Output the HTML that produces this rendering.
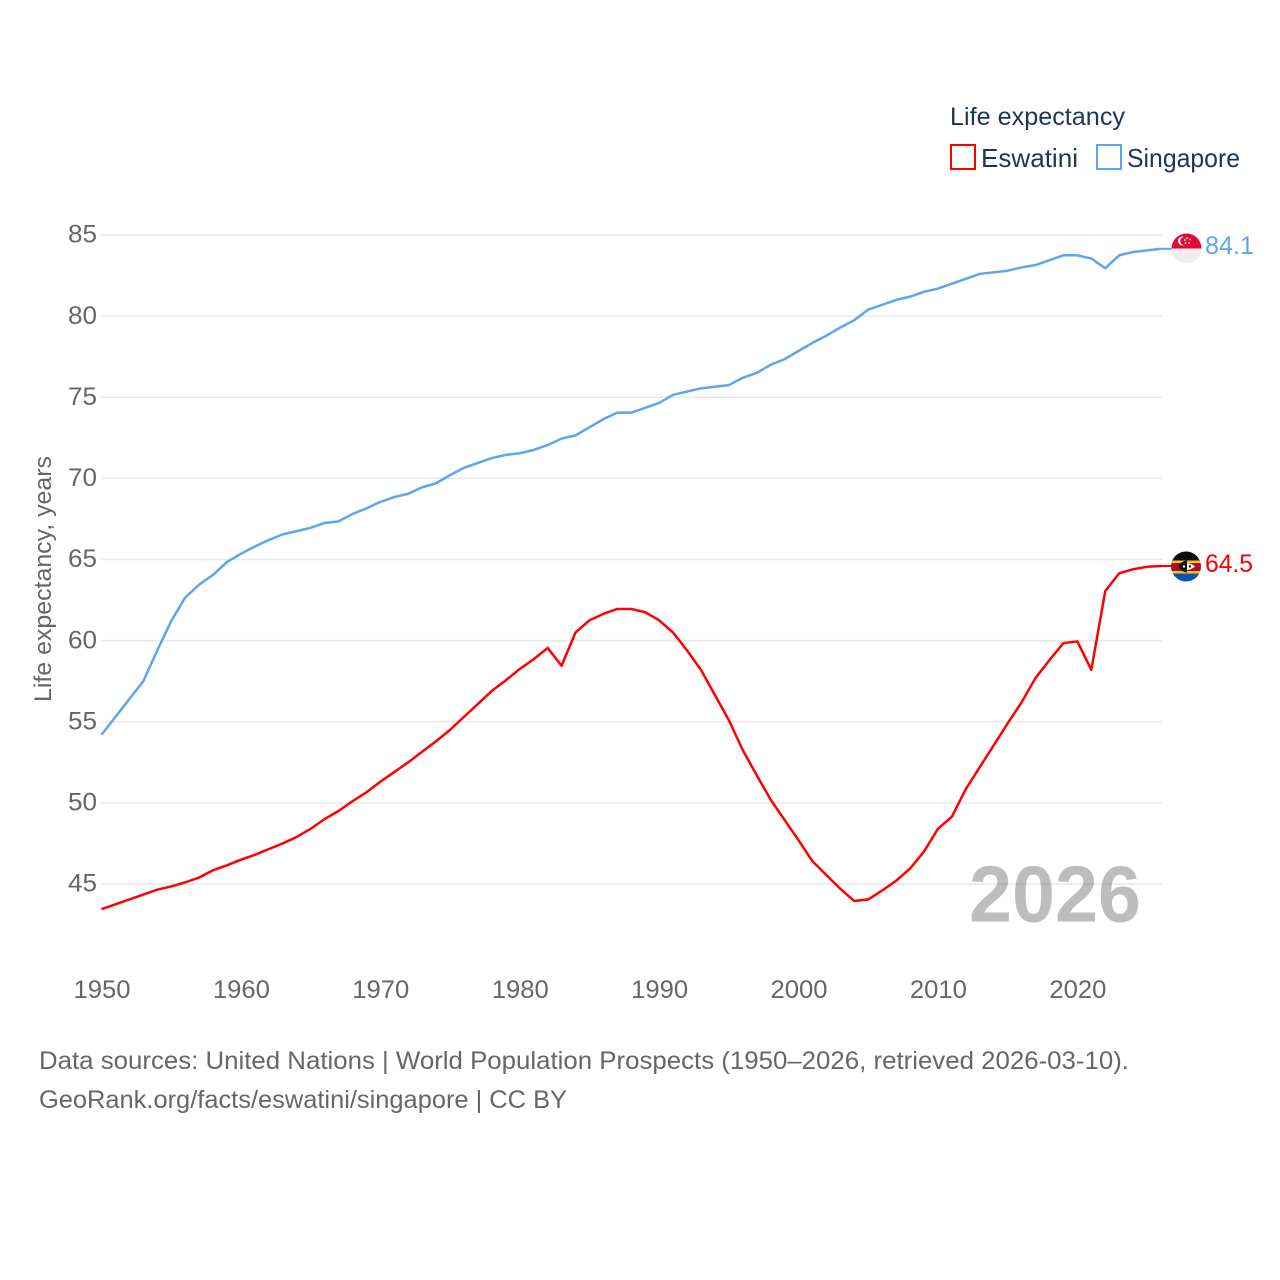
<!DOCTYPE html>
<html lang="en">
<head>
<meta charset="utf-8">
<title>Life expectancy: Eswatini and Singapore</title>
<style>
html,body{margin:0;padding:0;background:#fff;}
svg{display:block;font-family:"Liberation Sans",sans-serif;}
</style>
</head>
<body>
<svg id="chart" width="1280" height="1280" viewBox="0 0 1280 1280" xmlns="http://www.w3.org/2000/svg">
  <defs>
    <clipPath id="clip-sg"><circle cx="1186.5" cy="248.5" r="15"/></clipPath>
    <clipPath id="clip-sz"><circle cx="1186" cy="566.5" r="15"/></clipPath>
  </defs>
  <g id="grid"></g>
  <g id="y-ticks"></g>
  <g id="x-ticks"></g>
  <text transform="translate(51,702) rotate(-90)" font-size="24" fill="#666" textLength="246" lengthAdjust="spacingAndGlyphs">Life expectancy, years</text>

  <text x="969" y="921.5" font-size="80" font-weight="700" fill="#000" fill-opacity="0.26" textLength="172" lengthAdjust="spacingAndGlyphs">2026</text>

  <path id="line-eswatini" fill="none" stroke="#ff0000" stroke-width="2.5" stroke-linejoin="round"></path>
  <path id="line-singapore" fill="none" stroke="#5da5ee" stroke-width="2.5" stroke-linejoin="round"></path>
  <line id="lead-eswatini" stroke="#ff0000" stroke-width="2"></line>
  <line id="lead-singapore" stroke="#5da5ee" stroke-width="2"></line>

  <g clip-path="url(#clip-sg)">
    <rect x="1171" y="233" width="31" height="16" fill="#e30b35"/>
    <rect x="1171" y="248.5" width="31" height="16" fill="#eeeeee"/>
    <circle cx="1182.5" cy="241" r="4.5" fill="#fff"/>
    <circle cx="1184.5" cy="241" r="4.3" fill="#e30b35"/>
    <circle cx="1187" cy="238" r="0.9" fill="#fff"/>
    <circle cx="1190" cy="239.5" r="0.9" fill="#fff"/>
    <circle cx="1189" cy="243" r="0.9" fill="#fff"/>
    <circle cx="1185.5" cy="243" r="0.9" fill="#fff"/>
    <circle cx="1184.8" cy="240" r="0.9" fill="#fff"/>
  </g>
  <g clip-path="url(#clip-sz)">
    <rect x="1170" y="551" width="32" height="10" fill="#0b0b0b"/>
    <rect x="1170" y="560.5" width="32" height="2.5" fill="#f5c518"/>
    <rect x="1170" y="563" width="32" height="8" fill="#b10c2a"/>
    <rect x="1170" y="571" width="32" height="2.5" fill="#f5c518"/>
    <rect x="1170" y="573.5" width="32" height="9" fill="#0a54b0"/>
    <path d="M1178 566.5 Q1187 559.5 1195 566.5 Q1187 573.5 1178 566.5Z" fill="#fff"/>
    <path d="M1178 566.5 Q1182 560.5 1187 560.5 L1187 572.5 Q1182 572.5 1178 566.5Z" fill="#111"/>
    <circle cx="1184" cy="566.5" r="1.2" fill="#fff"/>
    <circle cx="1190" cy="566.5" r="1.2" fill="#111"/>
  </g>

  <text id="value-singapore" x="1205" y="254" font-size="25" fill="#5da5ee" textLength="49" lengthAdjust="spacingAndGlyphs"></text>
  <text id="value-eswatini" x="1205" y="572" font-size="25" fill="#ff0000" textLength="48" lengthAdjust="spacingAndGlyphs"></text>

  <g>
    <text x="950" y="125" font-size="25" fill="#1d3557" textLength="175" lengthAdjust="spacingAndGlyphs">Life expectancy</text>
    <g>
      <rect x="951" y="145" width="24" height="24" fill="#fff" stroke="#ff0000" stroke-width="2"/>
      <text x="981" y="167" font-size="26" fill="#1d3557" textLength="97" lengthAdjust="spacingAndGlyphs">Eswatini</text>
    </g>
    <g>
      <rect x="1097" y="145" width="24" height="24" fill="#fff" stroke="#5da5ee" stroke-width="2"/>
      <text x="1127" y="167" font-size="26" fill="#1d3557" textLength="113" lengthAdjust="spacingAndGlyphs">Singapore</text>
    </g>
  </g>

  <g>
    <text x="39" y="1069" font-size="25" fill="#666" textLength="1090" lengthAdjust="spacingAndGlyphs">Data sources: United Nations | World Population Prospects (1950–2026, retrieved 2026-03-10).</text>
    <text x="39" y="1108" font-size="25" fill="#666" textLength="528" lengthAdjust="spacingAndGlyphs">GeoRank.org/facts/eswatini/singapore | CC BY</text>
  </g>
</svg>
<script>
const startYear = 1950;
const singaporeValues = [54.2,55.3,56.4,57.5,59.4,61.2,62.65,63.45,64.05,64.85,65.35,65.8,66.2,66.55,66.75,66.95,67.25,67.35,67.8,68.15,68.55,68.85,69.05,69.45,69.7,70.2,70.65,70.95,71.25,71.45,71.55,71.75,72.05,72.45,72.65,73.15,73.65,74.05,74.05,74.35,74.65,75.15,75.35,75.55,75.65,75.75,76.2,76.5,77,77.35,77.85,78.35,78.8,79.3,79.75,80.4,80.7,81,81.2,81.5,81.7,82,82.3,82.6,82.7,82.8,83,83.15,83.45,83.75,83.75,83.55,82.95,83.75,83.95,84.05,84.15];
const eswatiniValues = [43.45,43.75,44.05,44.35,44.65,44.85,45.1,45.4,45.85,46.15,46.5,46.8,47.15,47.5,47.9,48.4,49,49.5,50.1,50.65,51.3,51.9,52.5,53.15,53.8,54.5,55.3,56.1,56.9,57.55,58.25,58.85,59.55,58.45,60.5,61.25,61.65,61.95,61.95,61.75,61.25,60.5,59.4,58.2,56.65,55.1,53.25,51.7,50.2,48.95,47.7,46.4,45.55,44.7,43.95,44.05,44.6,45.2,45.95,47,48.4,49.15,50.85,52.2,53.55,54.9,56.2,57.7,58.8,59.85,59.95,58.2,63.05,64.15,64.4,64.55,64.6];
const yTickValues = [45,50,55,60,65,70,75,80,85];
const xTickValues = [1950,1960,1970,1980,1990,2000,2010,2020];
const singaporeLabel = "84.1";
const eswatiniLabel = "64.5";

const NS = "http://www.w3.org/2000/svg";
function xScale(year){ return 101.5 + (year - 1950) * (1161 - 101.5) / 76; }
function yScale(v){ return 884 - (v - 45) * (884 - 235) / 40; }
function linePath(values){
  return values.map(function(v,i){
    return (i ? "L" : "M") + xScale(startYear + i).toFixed(2) + " " + yScale(v).toFixed(2);
  }).join(" ");
}

const gridGroup = document.getElementById("grid");
const yGroup = document.getElementById("y-ticks");
yTickValues.forEach(function(v){
  const ln = document.createElementNS(NS,"line");
  
  
  ln.setAttribute("x1",101); ln.setAttribute("x2",1162);
  ln.setAttribute("y1",yScale(v)); ln.setAttribute("y2",yScale(v));
  ln.setAttribute("stroke","#e9e9e9"); ln.setAttribute("stroke-width","1.6");
  gridGroup.appendChild(ln);
  const t = document.createElementNS(NS,"text");
  
  
  t.setAttribute("x",68); t.setAttribute("y",yScale(v)+7.7);
  t.setAttribute("font-size","25"); t.setAttribute("fill","#666");
  t.setAttribute("textLength","29"); t.setAttribute("lengthAdjust","spacingAndGlyphs");
  t.textContent = String(v);
  yGroup.appendChild(t);
});

const xGroup = document.getElementById("x-ticks");
xTickValues.forEach(function(y){
  const t = document.createElementNS(NS,"text");
  
  
  t.setAttribute("x",xScale(y)-28); t.setAttribute("y",998);
  t.setAttribute("font-size","25"); t.setAttribute("fill","#666");
  t.setAttribute("textLength","57"); t.setAttribute("lengthAdjust","spacingAndGlyphs");
  t.textContent = String(y);
  xGroup.appendChild(t);
});

document.getElementById("line-singapore").setAttribute("d", linePath(singaporeValues));
document.getElementById("line-eswatini").setAttribute("d", linePath(eswatiniValues));

function lead(id, values){
  const el = document.getElementById(id);
  const y = yScale(values[values.length-1]);
  el.setAttribute("x1",1161); el.setAttribute("x2",1172);
  el.setAttribute("y1",y); el.setAttribute("y2",y);
}
lead("lead-singapore", singaporeValues);
lead("lead-eswatini", eswatiniValues);
document.getElementById("value-singapore").textContent = singaporeLabel;
document.getElementById("value-eswatini").textContent = eswatiniLabel;
</script>
</body>
</html>
